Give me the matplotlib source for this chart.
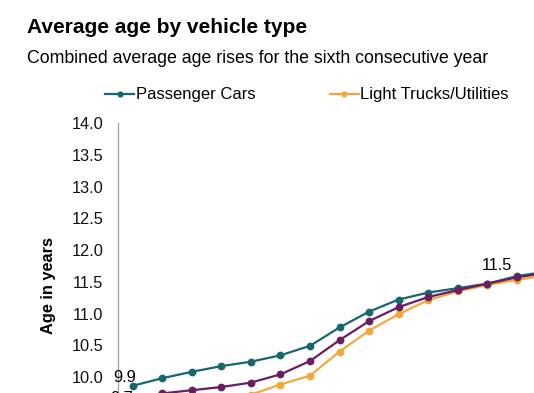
import numpy as np
import matplotlib
matplotlib.use("Agg")
import matplotlib.pyplot as plt

plt.rcParams['font.family'] = ['Liberation Sans', 'DejaVu Sans']

# Data (right-hand part is cropped in the reference)
years = list(range(2002, 2018))
passenger_cars = [9.86, 9.98, 10.08, 10.17, 10.24, 10.34, 10.49, 10.78, 11.03, 11.22,
                  11.33, 11.40, 11.47, 11.59, 11.66, 11.72]
light_trucks = [9.45, 9.50, 9.56, 9.62, 9.72, 9.88, 10.02, 10.40, 10.73, 10.99,
                11.21, 11.35, 11.45, 11.53, 11.60, 11.66]
all_vehicles = [9.68, 9.74, 9.79, 9.84, 9.91, 10.04, 10.25, 10.58, 10.88, 11.10,
                11.26, 11.37, 11.47, 11.57, 11.64, 11.70]
y_ticks = [10.0, 10.5, 11.0, 11.5, 12.0, 12.5, 13.0, 13.5, 14.0]

TEAL = '#17676f'
ORANGE = '#f2a93b'
PURPLE = '#6a1d62'

W, H = 534, 393
fig = plt.figure(figsize=(W / 100, H / 100), dpi=100)

# axes deliberately extend past the bottom/right edge (reference is a crop)
n = len(years)
px_x = 29.54
px_y = 63.4
left_px, top_px = 118, 123.3
ymin, ymax = 8.0, 14.0
ax = fig.add_axes([left_px / W,
                   1 - (top_px + (ymax - ymin) * px_y) / H,
                   n * px_x / W,
                   (ymax - ymin) * px_y / H])

x = np.arange(n)
kw = dict(lw=1.6, marker='o', markersize=4.6, clip_on=False)
l1, = ax.plot(x, passenger_cars, color=TEAL, label='Passenger Cars', zorder=3, **kw)
l2, = ax.plot(x, light_trucks, color=ORANGE, label='Light Trucks/Utilities', zorder=3, **kw)
l3, = ax.plot(x, all_vehicles, color=PURPLE, label='All Light Vehicles', zorder=4, **kw)

ax.set_xlim(-0.5, n - 0.5)
ax.set_ylim(ymin, ymax)
ax.set_yticks(y_ticks)
ax.set_yticklabels([f"{v:.1f}" for v in y_ticks])
ax.set_xticks([])  # year labels sit below the crop
ax.tick_params(axis='y', length=0, pad=10.5, labelsize=11.8, labelcolor='#111111')
for s in ['top', 'right', 'bottom']:
    ax.spines[s].set_visible(False)
ax.spines['left'].set_color('#a6a6a6')
ax.spines['left'].set_linewidth(1.0)

ax.set_ylabel('Age in years', fontsize=11.8, fontweight='bold')
ax.yaxis.set_label_coords(-(118 - 56) / (n * px_x), 1 - (285 - top_px) / ((ymax - ymin) * px_y))

# data labels
ax.annotate(f"{passenger_cars[0]:.1f}", (x[0], passenger_cars[0]), xytext=(-8, 4),
            textcoords='offset pixels', ha='center', va='baseline', fontsize=11.8)
ax.annotate(f"{all_vehicles[0]:.1f}", (x[0], all_vehicles[0]), xytext=(-11, -6),
            textcoords='offset pixels', ha='center', va='baseline', fontsize=11.8)
ax.annotate(f"{all_vehicles[12]:.1f}", (x[12], all_vehicles[12]), xytext=(10, 14),
            textcoords='offset pixels', ha='center', va='baseline', fontsize=11.8)

fig.text(27 / W, 1 - 33 / H, 'Average age by vehicle type', fontsize=15,
         fontweight='bold', ha='left', va='baseline')
fig.text(27 / W, 1 - 63 / H, 'Combined average age rises for the sixth consecutive year',
         fontsize=12.75, ha='left', va='baseline')

fig.legend(handles=[l1, l2, l3], ncol=3, loc='center left',
           bbox_to_anchor=(105 / W, 1 - 95 / H), frameon=False, fontsize=12.0,
           handlelength=1.75, handletextpad=0.1, columnspacing=4.45,
           borderpad=0, borderaxespad=0, markerscale=0.75)

fig.savefig('out.png', dpi=100)
